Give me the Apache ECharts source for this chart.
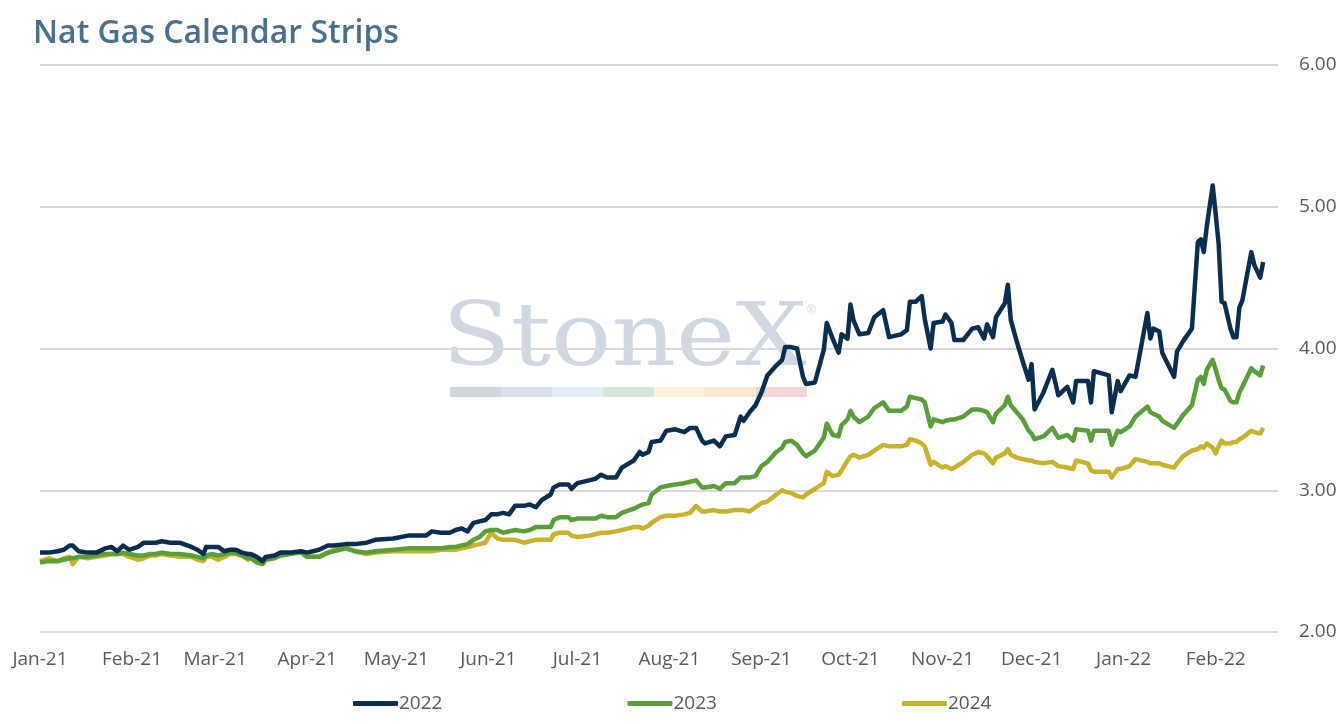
<!DOCTYPE html>
<html>
<head>
<meta charset="utf-8">
<script src="https://cdn.jsdelivr.net/npm/echarts@6/dist/echarts.min.js"></script>
<style>
  html, body { margin: 0; padding: 0; background: #fff; }
  #chart { width: 1344px; height: 724px; }
</style>
</head>
<body>
<div id="chart"></div>
<script>
const monthLabels = ['Jan-21', 'Feb-21', 'Mar-21', 'Apr-21', 'May-21', 'Jun-21', 'Jul-21',
  'Aug-21', 'Sep-21', 'Oct-21', 'Nov-21', 'Dec-21', 'Jan-22', 'Feb-22'];

const dates = [
  '2021-01-01', '2021-01-04', '2021-01-07', '2021-01-09', '2021-01-11', '2021-01-12', '2021-01-14', '2021-01-17',
  '2021-01-20', '2021-01-23', '2021-01-25', '2021-01-27', '2021-01-29', '2021-01-31', '2021-02-03', '2021-02-05',
  '2021-02-07', '2021-02-09', '2021-02-11', '2021-02-14', '2021-02-17', '2021-02-21', '2021-02-23', '2021-02-25',
  '2021-02-26', '2021-02-28', '2021-03-02', '2021-03-04', '2021-03-06', '2021-03-08', '2021-03-10', '2021-03-12',
  '2021-03-13', '2021-03-15', '2021-03-17', '2021-03-18', '2021-03-21', '2021-03-23', '2021-03-26', '2021-03-30',
  '2021-04-01', '2021-04-05', '2021-04-08', '2021-04-10', '2021-04-14', '2021-04-17', '2021-04-21', '2021-04-24',
  '2021-04-30', '2021-05-05', '2021-05-09', '2021-05-11', '2021-05-13', '2021-05-16', '2021-05-19', '2021-05-21',
  '2021-05-23', '2021-05-25', '2021-05-27', '2021-05-29', '2021-05-31', '2021-06-02', '2021-06-04', '2021-06-06',
  '2021-06-08', '2021-06-10', '2021-06-13', '2021-06-15', '2021-06-17', '2021-06-19', '2021-06-22', '2021-06-23',
  '2021-06-25', '2021-06-28', '2021-06-29', '2021-07-01', '2021-07-05', '2021-07-07', '2021-07-09', '2021-07-11',
  '2021-07-14', '2021-07-16', '2021-07-20', '2021-07-22', '2021-07-23', '2021-07-25', '2021-07-26', '2021-07-29',
  '2021-07-31', '2021-08-03', '2021-08-06', '2021-08-08', '2021-08-10', '2021-08-12', '2021-08-13', '2021-08-16',
  '2021-08-18', '2021-08-20', '2021-08-23', '2021-08-25', '2021-08-26', '2021-08-28', '2021-08-30', '2021-09-01',
  '2021-09-03', '2021-09-06', '2021-09-08', '2021-09-09', '2021-09-11', '2021-09-13', '2021-09-15', '2021-09-16',
  '2021-09-19', '2021-09-22', '2021-09-23', '2021-09-25', '2021-09-27', '2021-09-28', '2021-09-30', '2021-10-01',
  '2021-10-02', '2021-10-04', '2021-10-07', '2021-10-09', '2021-10-12', '2021-10-14', '2021-10-18', '2021-10-20',
  '2021-10-21', '2021-10-23', '2021-10-25', '2021-10-26', '2021-10-28', '2021-10-29', '2021-11-01', '2021-11-02',
  '2021-11-04', '2021-11-05', '2021-11-08', '2021-11-11', '2021-11-13', '2021-11-15', '2021-11-16', '2021-11-18',
  '2021-11-19', '2021-11-22', '2021-11-23', '2021-11-24', '2021-11-26', '2021-11-28', '2021-11-30', '2021-12-01',
  '2021-12-02', '2021-12-05', '2021-12-08', '2021-12-10', '2021-12-13', '2021-12-15', '2021-12-16', '2021-12-20',
  '2021-12-21', '2021-12-22', '2021-12-27', '2021-12-28', '2021-12-30', '2021-12-31', '2022-01-03', '2022-01-05',
  '2022-01-09', '2022-01-10', '2022-01-11', '2022-01-13', '2022-01-14', '2022-01-18', '2022-01-19', '2022-01-21',
  '2022-01-24', '2022-01-26', '2022-01-27', '2022-01-28', '2022-01-29', '2022-01-31', '2022-02-01', '2022-02-02',
  '2022-02-03', '2022-02-04', '2022-02-06', '2022-02-07', '2022-02-08', '2022-02-09', '2022-02-10', '2022-02-13',
  '2022-02-14', '2022-02-16', '2022-02-17'
];

const strip2022 = [
  2.56, 2.56, 2.57, 2.58, 2.61, 2.61, 2.57, 2.56, 2.56, 2.59, 2.60, 2.57, 2.61, 2.58, 2.60, 2.63,
  2.63, 2.63, 2.64, 2.63, 2.63, 2.60, 2.58, 2.55, 2.60, 2.60, 2.60, 2.57, 2.58, 2.58, 2.56, 2.55,
  2.55, 2.53, 2.50, 2.53, 2.54, 2.56, 2.56, 2.57, 2.56, 2.58, 2.61, 2.61, 2.62, 2.62, 2.63, 2.65,
  2.66, 2.68, 2.68, 2.68, 2.71, 2.70, 2.70, 2.72, 2.73, 2.71, 2.77, 2.78, 2.79, 2.83, 2.83, 2.84,
  2.83, 2.89, 2.89, 2.90, 2.88, 2.93, 2.97, 3.02, 3.04, 3.04, 3.01, 3.05, 3.07, 3.08, 3.11, 3.09,
  3.09, 3.16, 3.21, 3.27, 3.25, 3.27, 3.34, 3.35, 3.42, 3.43, 3.41, 3.44, 3.44, 3.35, 3.33, 3.35,
  3.31, 3.38, 3.39, 3.52, 3.49, 3.55, 3.60, 3.69, 3.81, 3.88, 3.92, 4.01, 4.01, 4.00, 3.80, 3.75,
  3.76, 3.99, 4.18, 4.07, 3.97, 4.10, 4.07, 4.31, 4.20, 4.10, 4.11, 4.22, 4.27, 4.08, 4.10, 4.13,
  4.33, 4.33, 4.37, 4.21, 4.00, 4.18, 4.19, 4.24, 4.18, 4.06, 4.06, 4.14, 4.15, 4.07, 4.17, 4.08,
  4.22, 4.32, 4.45, 4.20, 4.05, 3.91, 3.78, 3.89, 3.57, 3.69, 3.85, 3.67, 3.73, 3.62, 3.77, 3.77,
  3.62, 3.84, 3.81, 3.55, 3.77, 3.70, 3.81, 3.80, 4.25, 4.07, 4.14, 4.12, 3.97, 3.80, 3.98, 4.05,
  4.14, 4.75, 4.77, 4.68, 4.86, 5.15, 4.95, 4.74, 4.33, 4.32, 4.14, 4.08, 4.08, 4.29, 4.34, 4.68,
  4.59, 4.50, 4.61
];

const strip2023 = [
  2.49, 2.50, 2.50, 2.51, 2.52, 2.52, 2.53, 2.53, 2.54, 2.55, 2.55, 2.55, 2.56, 2.55, 2.54, 2.54,
  2.55, 2.55, 2.56, 2.55, 2.55, 2.54, 2.53, 2.52, 2.54, 2.55, 2.54, 2.55, 2.56, 2.56, 2.54, 2.52,
  2.52, 2.49, 2.48, 2.51, 2.52, 2.54, 2.55, 2.56, 2.53, 2.53, 2.56, 2.57, 2.59, 2.57, 2.56, 2.57,
  2.58, 2.59, 2.59, 2.59, 2.59, 2.59, 2.60, 2.60, 2.61, 2.62, 2.65, 2.67, 2.71, 2.72, 2.72, 2.70,
  2.71, 2.72, 2.71, 2.72, 2.74, 2.74, 2.74, 2.79, 2.81, 2.81, 2.79, 2.80, 2.80, 2.80, 2.82, 2.81,
  2.81, 2.84, 2.87, 2.89, 2.90, 2.91, 2.97, 3.02, 3.03, 3.04, 3.05, 3.06, 3.07, 3.02, 3.02, 3.03,
  3.01, 3.05, 3.05, 3.09, 3.09, 3.09, 3.10, 3.17, 3.20, 3.27, 3.30, 3.34, 3.35, 3.32, 3.26, 3.24,
  3.28, 3.37, 3.47, 3.39, 3.38, 3.46, 3.50, 3.56, 3.52, 3.48, 3.52, 3.58, 3.62, 3.56, 3.56, 3.59,
  3.66, 3.65, 3.64, 3.62, 3.45, 3.50, 3.48, 3.49, 3.50, 3.50, 3.52, 3.57, 3.57, 3.56, 3.55, 3.48,
  3.54, 3.60, 3.66, 3.60, 3.55, 3.50, 3.42, 3.40, 3.36, 3.38, 3.44, 3.37, 3.39, 3.35, 3.43, 3.42,
  3.35, 3.42, 3.42, 3.32, 3.42, 3.41, 3.45, 3.52, 3.59, 3.55, 3.54, 3.52, 3.49, 3.44, 3.47, 3.53,
  3.60, 3.78, 3.80, 3.75, 3.85, 3.92, 3.85, 3.78, 3.72, 3.71, 3.63, 3.62, 3.62, 3.69, 3.73, 3.86,
  3.84, 3.81, 3.88
];

const strip2024 = [
  2.50, 2.52, 2.50, 2.52, 2.53, 2.48, 2.53, 2.52, 2.53, 2.54, 2.55, 2.55, 2.55, 2.53, 2.51, 2.52,
  2.54, 2.54, 2.55, 2.54, 2.53, 2.53, 2.51, 2.50, 2.53, 2.53, 2.51, 2.53, 2.55, 2.55, 2.54, 2.51,
  2.52, 2.51, 2.51, 2.52, 2.53, 2.54, 2.55, 2.57, 2.53, 2.53, 2.56, 2.58, 2.60, 2.57, 2.55, 2.56,
  2.57, 2.57, 2.57, 2.57, 2.57, 2.58, 2.58, 2.58, 2.59, 2.60, 2.61, 2.62, 2.63, 2.70, 2.66, 2.65,
  2.65, 2.65, 2.63, 2.64, 2.65, 2.65, 2.65, 2.69, 2.70, 2.70, 2.68, 2.67, 2.68, 2.69, 2.70, 2.70,
  2.71, 2.72, 2.74, 2.74, 2.73, 2.75, 2.77, 2.81, 2.82, 2.82, 2.83, 2.84, 2.89, 2.85, 2.85, 2.86,
  2.85, 2.85, 2.86, 2.86, 2.86, 2.85, 2.88, 2.91, 2.92, 2.97, 3.00, 2.99, 2.98, 2.96, 2.95, 2.97,
  3.01, 3.05, 3.13, 3.10, 3.11, 3.14, 3.21, 3.24, 3.25, 3.23, 3.25, 3.28, 3.32, 3.31, 3.31, 3.32,
  3.36, 3.35, 3.33, 3.31, 3.18, 3.20, 3.16, 3.17, 3.15, 3.16, 3.20, 3.25, 3.27, 3.26, 3.24, 3.19,
  3.23, 3.26, 3.29, 3.25, 3.23, 3.22, 3.21, 3.21, 3.20, 3.19, 3.20, 3.17, 3.16, 3.15, 3.21, 3.19,
  3.14, 3.13, 3.13, 3.09, 3.15, 3.15, 3.17, 3.22, 3.20, 3.19, 3.19, 3.19, 3.18, 3.16, 3.19, 3.24,
  3.28, 3.29, 3.31, 3.30, 3.33, 3.30, 3.26, 3.31, 3.35, 3.33, 3.33, 3.34, 3.34, 3.36, 3.37, 3.42,
  3.41, 3.40, 3.44
];

const seriesNames = ['2022', '2023', '2024'];
const seriesColors = ['#0a2e50', '#5a9e3a', '#c9b22b'];
const logoBarColors = ['#cdd5dd', '#d6dfe8', '#e3edf5', '#d4e4da', '#faf3d9', '#fde9cf', '#f3d5d6'];

// one category per calendar day, Jan 1 2021 .. Feb 22 2022
const days = [];
for (let t = Date.UTC(2021, 0, 1); t <= Date.UTC(2022, 1, 22); t += 86400000) {
  days.push(new Date(t).toISOString().slice(0, 10));
}

function monthLabel(d) {
  const y = +d.slice(0, 4), m = +d.slice(5, 7);
  return monthLabels[(y - 2021) * 12 + m - 1] || '';
}

const chart = echarts.init(document.getElementById('chart'));

const labelFont = '"Open Sans", Lato, sans-serif';

const logoBars = logoBarColors.map((c, i) => ({
  type: 'rect',
  left: 450 + i * 51,
  top: 387,
  z: 0,
  silent: true,
  shape: { width: 51, height: 10 },
  style: { fill: c }
}));

chart.setOption({
  animation: false,
  title: {
    text: 'Nat Gas Calendar Strips',
    left: 28,
    top: 13,
    textStyle: { fontFamily: labelFont, fontSize: 32, fontWeight: 600, color: '#4b7089' }
  },
  grid: { left: 40, right: 66, top: 65, bottom: 92, containLabel: false },
  legend: {
    bottom: 6,
    left: 348,
    itemGap: 185,
    itemWidth: 45,
    itemHeight: 5,
    icon: 'roundRect',
    textStyle: { fontFamily: labelFont, fontSize: 19, color: '#595959', padding: [0, 0, 0, -4] },
    data: seriesNames
  },
  graphic: [
    {
      type: 'text',
      left: 442,
      top: 298,
      z: 0,
      silent: true,
      scaleX: 1.14,
      style: { text: 'StoneX', font: '88px "DejaVu Serif", serif', fill: '#cfd8e0' }
    },
    {
      type: 'text',
      left: 807,
      top: 305,
      z: 0,
      silent: true,
      style: { text: '\u00ae', font: '12px sans-serif', fill: '#cfd8e0' }
    }
  ].concat(logoBars),
  xAxis: {
    type: 'category',
    data: days,
    boundaryGap: false,
    axisLine: { show: false },
    axisTick: { show: false },
    axisLabel: {
      interval: (i, v) => v.slice(8) === '01',
      formatter: monthLabel,
      margin: 18,
      fontFamily: labelFont,
      fontSize: 19,
      color: '#595959'
    },
    splitLine: { show: false }
  },
  yAxis: {
    type: 'value',
    position: 'right',
    min: 2,
    max: 6,
    interval: 1,
    axisLine: { show: false },
    axisTick: { show: false },
    axisLabel: {
      formatter: v => v.toFixed(2),
      margin: 21,
      fontFamily: labelFont,
      fontSize: 19,
      color: '#595959'
    },
    splitLine: { lineStyle: { color: '#d9d9d9', width: 2 } }
  },
  series: [strip2022, strip2023, strip2024].map((vals, k) => ({
    name: seriesNames[k],
    type: 'line',
    z: 3 - k,
    symbol: 'none',
    color: seriesColors[k],
    lineStyle: { width: 4.5, color: seriesColors[k], join: 'round' },
    data: dates.map((d, i) => [d, vals[i]])
  }))
});
</script>
</body>
</html>
